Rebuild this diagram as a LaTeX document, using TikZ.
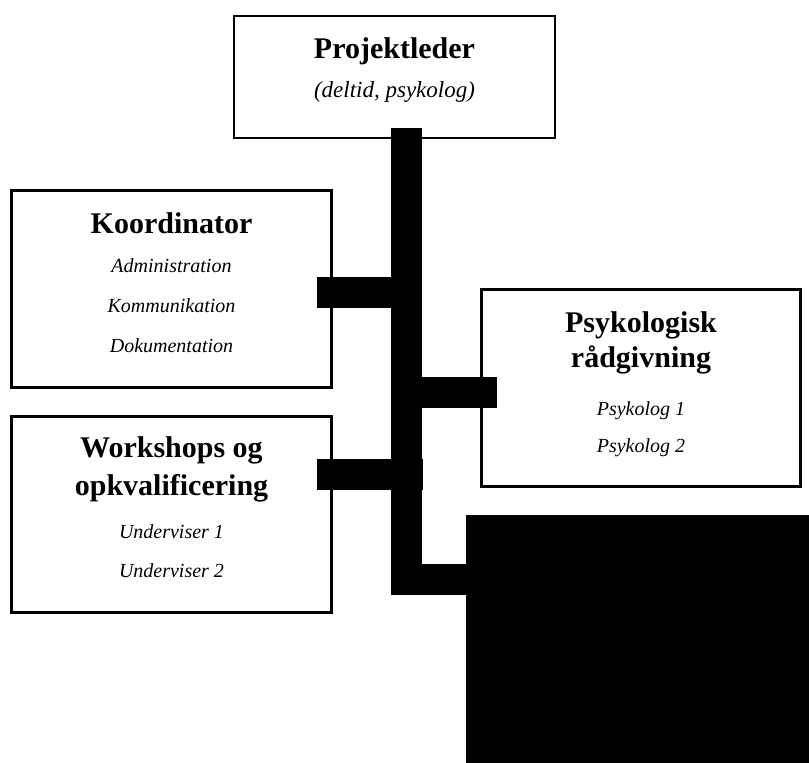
\documentclass[tikz,border=0pt]{standalone}
\usepackage{fontspec}
\setmainfont{Liberation Serif}
\begin{document}
\begin{tikzpicture}[x=1pt,y=-1pt,
  box/.style={draw=black, line width=2.6pt, fill=white, rectangle, inner sep=0pt},
  conn/.style={line width=31pt, line cap=butt, line join=miter, draw=black},
  ttl/.style={anchor=base, inner sep=0pt, font=\fontsize{30}{36}\selectfont\bfseries},
  itm/.style={anchor=base, inner sep=0pt, font=\fontsize{20}{24}\selectfont\itshape}]
\fill[white] (0,0) rectangle (809,763);
\useasboundingbox (0,0) rectangle (809,763);
% boxes
\node[box, minimum width=321pt, minimum height=122pt] (proj) at (394.5,77) {};
\node[box, minimum width=320pt, minimum height=197pt] (koord) at (171.5,289) {};
\node[box, minimum width=319pt, minimum height=197pt] (psyk) at (641,388) {};
\node[box, minimum width=320pt, minimum height=196pt] (work) at (171.5,514.5) {};
\node[fill=black, draw=none, inner sep=0pt, minimum width=343pt, minimum height=248pt] (blk) at (637.5,639) {};
% connector coordinates
\coordinate (top) at (406.5,128);
\coordinate (bend) at (406.5,579.5);
\coordinate (bendend) at (blk.west |- bend);
\coordinate (kc) at (317,292.5);
\coordinate (kj) at (422,292.5);
\coordinate (pj) at (420,392);
\coordinate (pc) at (497,392);
\coordinate (wc) at (317,474.5);
\coordinate (wj) at (423,474.5);
% connectors
\draw[conn] (top) -- (bend) -- (bendend);
\draw[conn] (kc) -- (kj);
\draw[conn] (pj) -- (pc);
\draw[conn] (wc) -- (wj);
% texts
\node[ttl] (projT) at (394.5,58) {Projektleder};
\node[itm, font=\fontsize{23}{27}\selectfont\itshape] (projS) at (394.5,97) {(deltid, psykolog)};
\node[ttl] (koordT) at (171.5,233) {Koordinator};
\node[itm] (k1) at (171.5,272) {Administration};
\node[itm] (k2) at (171.5,312) {Kommunikation};
\node[itm] (k3) at (171.5,352) {Dokumentation};
\node[ttl] (psykT1) at (641,332) {Psykologisk};
\node[ttl] (psykT2) at (641,367) {rådgivning};
\node[itm] (p1) at (641,415) {Psykolog 1};
\node[itm] (p2) at (641,452) {Psykolog 2};
\node[ttl] (workT1) at (171.5,457) {Workshops og};
\node[ttl] (workT2) at (171.5,495) {opkvalificering};
\node[itm] (w1) at (171.5,538) {Underviser 1};
\node[itm] (w2) at (171.5,577) {Underviser 2};
\end{tikzpicture}
\end{document}
